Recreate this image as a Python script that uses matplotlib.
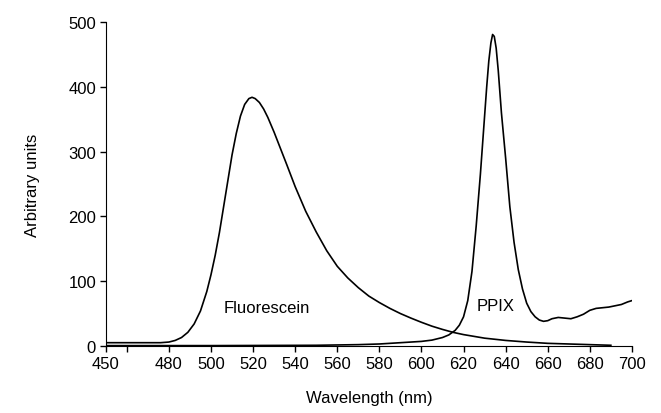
import matplotlib
matplotlib.use("Agg")
import matplotlib.pyplot as plt

plt.rcParams['font.family'] = ['Liberation Sans', 'DejaVu Sans']

# Fluorescein emission (wavelength nm, arbitrary units)
fluo_wl = [450, 460, 470, 476, 480, 483, 486, 489, 492, 495, 498, 500, 502, 504,
           506, 508, 510, 512, 514, 516, 518, 519.5, 521, 523, 525, 527, 530,
           533, 536, 540, 545, 550, 555, 560, 565, 570, 575, 580, 585, 590, 595,
           600, 605, 610, 615, 620, 630, 640, 650, 660, 670, 680, 690]
fluo_val = [5, 5, 5, 5, 6, 8.5, 13, 21, 34, 54, 84, 110, 140, 175,
            215, 255, 295, 328, 355, 373, 382, 384, 382, 376, 366, 353, 330,
            305, 280, 246, 208, 176, 147, 123, 105, 90, 77, 67, 58, 50, 43,
            36.5, 30.5, 25.5, 21, 17.5, 12, 8.5, 6, 4, 3, 2, 1]

# PPIX emission
ppix_wl = [450, 500, 550, 570, 580, 590, 600, 605, 610, 613, 616, 618, 620, 622,
           624, 626, 628, 630, 631, 632, 633, 633.8, 634.6, 635.5, 636.5, 638,
           640, 642, 644, 646, 648, 650, 652, 654, 656, 658, 660, 662, 665, 668,
           671, 674, 677, 680, 683, 686, 689, 692, 695, 698, 700]
ppix_val = [0.5, 0.5, 1, 2, 3, 5, 7, 9, 13, 17, 24, 32, 45, 70,
            115, 185, 265, 355, 400, 440, 468, 481, 478, 460, 425, 360,
            290, 215, 160, 118, 88, 66, 53, 45, 40, 38, 39, 42, 44, 43,
            42, 45, 49, 55, 58, 59, 60, 62, 64, 68, 70]

x_ticks = [450, 460, 480, 500, 520, 540, 560, 580, 600, 620, 640, 660, 680, 700]
x_labels = ['450', '', '480', '500', '520', '540', '560', '580', '600', '620',
            '640', '660', '680', '700']
y_ticks = [0, 100, 200, 300, 400, 500]

fig = plt.figure(figsize=(6.61, 4.14), dpi=100)
ax = fig.add_axes([0.160, 0.162, 0.796, 0.782])

ax.plot(fluo_wl, fluo_val, color='black', lw=1.2)
ax.plot(ppix_wl, ppix_val, color='black', lw=1.2)

ax.text(506, 60, 'Fluorescein', fontsize=12, va='center', ha='left')
ax.text(626, 63, 'PPIX', fontsize=12, va='center', ha='left')

ax.set_xlim(450, 700)
ax.set_ylim(0, 500)
ax.set_xticks(x_ticks)
ax.set_xticklabels(x_labels)
ax.set_yticks(y_ticks)
ax.tick_params(direction='out', length=4, width=1, labelsize=12, pad=3)

ax.spines['top'].set_visible(False)
ax.spines['right'].set_visible(False)

ax.set_xlabel('Wavelength (nm)', fontsize=12, labelpad=14)
ax.set_ylabel('Arbitrary units', fontsize=12, labelpad=20)

fig.savefig('out.png', dpi=100)
